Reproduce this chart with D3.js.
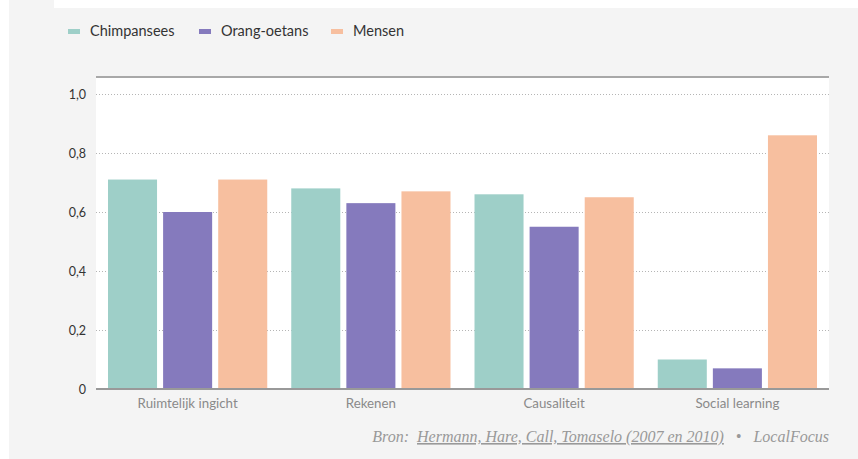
<!DOCTYPE html>
<html><head><meta charset="utf-8">
<script src="https://cdn.jsdelivr.net/npm/d3@7"></script>
<style>
html,body{margin:0;padding:0;background:#fff;}
svg{display:block;}
</style></head>
<body>
<script>
const categories = ["Ruimtelijk ingicht", "Rekenen", "Causaliteit", "Social learning"];
const seriesNames = ["Chimpansees", "Orang-oetans", "Mensen"];
const chimpansees = [0.71, 0.68, 0.66, 0.10];
const orangOetans = [0.60, 0.63, 0.55, 0.07];
const mensen = [0.71, 0.67, 0.65, 0.86];
const colors = ["#9ecfc8", "#857abd", "#f7bf9f"];
const yTicks = [0, 0.2, 0.4, 0.6, 0.8, 1.0];

(function () {
const W = 858, H = 459;
const svg = d3.select("body").append("svg").attr("width", W).attr("height", H);

svg.append("rect").attr("x", 9).attr("y", 0).attr("width", W - 9).attr("height", H).attr("fill", "#f4f4f4");
svg.append("rect").attr("x", 54).attr("y", 0).attr("width", W - 54).attr("height", 8).attr("fill", "#fff");

const pl = 96, pr = 829, pt = 77, pb = 389;
svg.append("rect").attr("x", pl).attr("y", pt).attr("width", pr - pl).attr("height", pb - pt).attr("fill", "#fff");

const x0 = d3.scaleBand().domain(categories).range([pl, pr]).paddingInner(0.131).paddingOuter(0.0655);
const x1 = d3.scaleBand().domain(seriesNames).range([0, x0.bandwidth()]).paddingInner(0.11);
const y = d3.scaleLinear().domain([0, 1]).range([pb, pb - 295]);

svg.append("g").selectAll("line").data(yTicks.filter(d => d > 0)).join("line")
  .attr("x1", pl).attr("x2", pr)
  .attr("y1", d => y(d) + 0.5).attr("y2", d => y(d) + 0.5)
  .attr("stroke", "#b5b5b5").attr("stroke-width", 1).attr("stroke-dasharray", "1,2");

svg.append("line").attr("x1", pl).attr("x2", pr).attr("y1", pt).attr("y2", pt)
  .attr("stroke", "#a8a8a8").attr("stroke-width", 2);

const data = [chimpansees, orangOetans, mensen];
const g = svg.append("g");
categories.forEach((c, i) => {
  seriesNames.forEach((s, j) => {
    g.append("rect")
      .attr("x", x0(c) + x1(s))
      .attr("y", y(data[j][i]))
      .attr("width", x1.bandwidth())
      .attr("height", pb - y(data[j][i]))
      .attr("fill", colors[j]);
  });
});

const yAxis = d3.axisLeft(y).tickValues(yTicks).tickSize(0).tickPadding(10)
  .tickFormat(d => d === 0 ? "0" : d3.format(".1f")(d).replace(".", ","));
const ya = svg.append("g").attr("transform", `translate(${pl},0)`).call(yAxis);
ya.select(".domain").remove();
ya.selectAll("text").attr("font-family", "Lato, 'Open Sans', sans-serif").attr("font-size", 12.5).attr("fill", "#333");

const xAxis = d3.axisBottom(x0).tickSize(0).tickPadding(10);
const xa = svg.append("g").attr("transform", `translate(0,${pb})`).call(xAxis);
xa.select(".domain").attr("stroke", "#999").attr("stroke-width", 2).attr("d", `M${pl},0H${pr}`);
xa.selectAll("text").attr("font-family", "Lato, 'Open Sans', sans-serif").attr("font-size", 13.3).attr("fill", "#8a8a8a");

const legendX = [68, 199, 331];
const leg = svg.append("g");
seriesNames.forEach((s, j) => {
  leg.append("rect").attr("x", legendX[j]).attr("y", 29).attr("width", 12).attr("height", 5).attr("fill", colors[j]);
  leg.append("text").attr("x", legendX[j] + 22).attr("y", 36).text(s)
    .attr("font-family", "Lato, 'Open Sans', sans-serif").attr("font-size", 14.5).attr("fill", "#333");
});

const src = svg.append("text").attr("x", pr).attr("y", 442).attr("text-anchor", "end")
  .style("white-space", "pre")
  .attr("font-family", "'Liberation Serif', serif").attr("font-style", "italic").attr("font-size", 16).attr("fill", "#999");
src.append("tspan").text("Bron:  ");
src.append("tspan").attr("text-decoration", "underline").text("Hermann, Hare, Call, Tomaselo (2007 en 2010)");
src.append("tspan").text("   \u2022   LocalFocus");
})();
</script>
</body></html>
